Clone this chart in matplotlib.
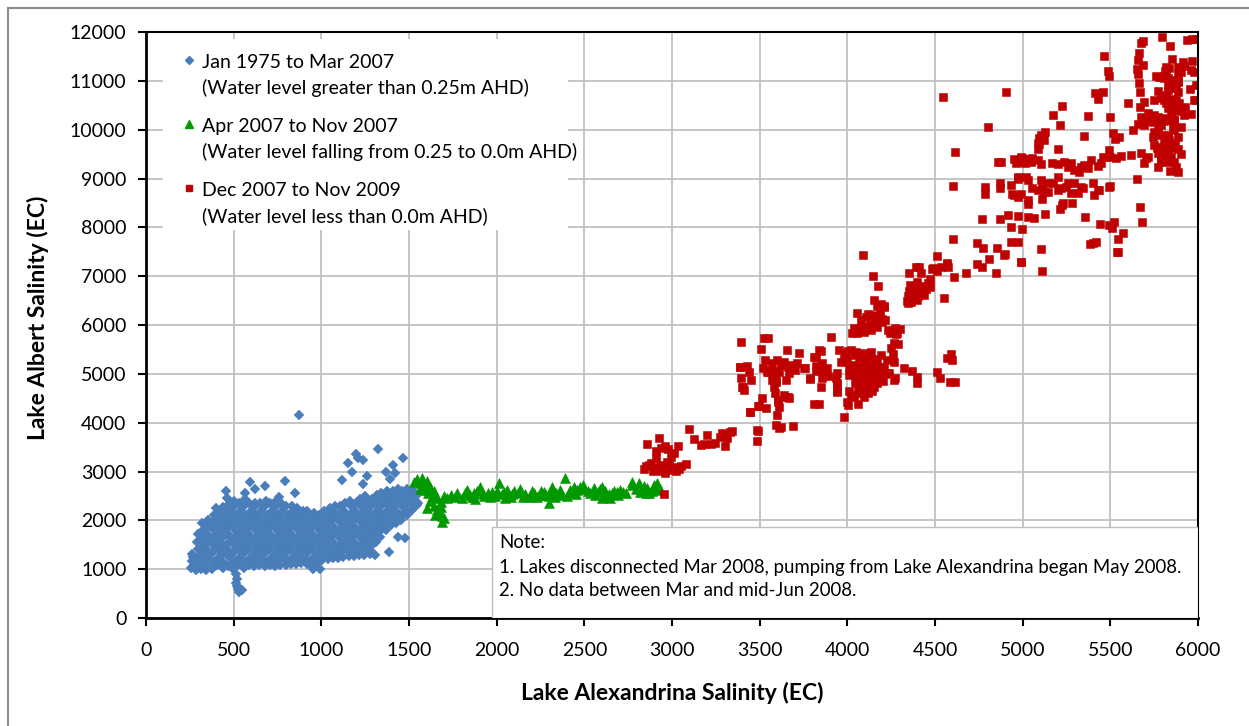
import matplotlib
matplotlib.use("Agg")
import matplotlib.pyplot as plt
from matplotlib.patches import Rectangle
from matplotlib.lines import Line2D

plt.rcParams['font.family'] = ['Lato', 'DejaVu Sans']

# (Lake Alexandrina EC, Lake Albert EC)
blue_pts = [
    (255, 1015), (260, 1170), (264, 1315), (272, 1095), (268, 1245),
    (287, 1085), (291, 1230), (294, 1405), (289, 1560), (296, 1710), (284, 990),
    (316, 1005), (321, 1160), (318, 1330), (324, 1475), (319, 1645), (326, 1800), (322, 1950),
    (347, 1075), (352, 1250), (349, 1395), (355, 1565), (350, 1715), (357, 1890), (353, 2010), (345, 985),
    (377, 1010), (382, 1155), (379, 1330), (385, 1475), (380, 1645), (386, 1795), (383, 1965), (388, 2105),
    (406, 1085), (411, 1235), (408, 1405), (414, 1555), (409, 1725), (415, 1875), (412, 2045), (417, 2150),
    (437, 1015), (442, 1155), (439, 1325), (445, 1475), (440, 1650), (446, 1795), (443, 1965), (448, 2115), (441, 2265),
    (466, 1075), (471, 1245), (468, 1395), (474, 1565), (469, 1715), (475, 1885), (472, 2035), (477, 2205), (470, 2320),
    (497, 1005), (502, 1155), (499, 1325), (505, 1475), (500, 1645), (506, 1795), (503, 1965), (508, 2115), (501, 2285), (504, 2390),
    (526, 1085), (531, 1235), (528, 1405), (534, 1555), (529, 1725), (535, 1875), (532, 2045), (537, 2195), (530, 2345),
    (557, 1025), (562, 1155), (559, 1325), (565, 1475), (560, 1645), (566, 1795), (563, 1965), (568, 2115), (561, 2285), (564, 2430),
    (586, 1085), (591, 1235), (588, 1405), (594, 1555), (589, 1725), (595, 1875), (592, 2045), (597, 2195), (590, 2360),
    (617, 1055), (622, 1155), (619, 1325), (625, 1475), (620, 1645), (626, 1795), (623, 1965), (628, 2115), (621, 2285), (624, 2365),
    (646, 1085), (651, 1235), (648, 1405), (654, 1555), (649, 1725), (655, 1875), (652, 2045), (657, 2195), (650, 2350),
    (677, 1065), (682, 1155), (679, 1325), (685, 1475), (680, 1645), (686, 1795), (683, 1965), (688, 2115), (681, 2285), (684, 2400),
    (706, 1095), (711, 1235), (708, 1405), (714, 1555), (709, 1725), (715, 1875), (712, 2045), (717, 2195), (710, 2350),
    (737, 1065), (742, 1155), (739, 1325), (745, 1475), (740, 1645), (746, 1795), (743, 1965), (748, 2115), (741, 2285), (744, 2400),
    (766, 1090), (771, 1235), (768, 1405), (774, 1555), (769, 1725), (775, 1875), (772, 2045), (777, 2195), (770, 2350),
    (797, 1085), (802, 1165), (799, 1325), (805, 1475), (800, 1645), (806, 1795), (803, 1965), (808, 2115), (801, 2285),
    (826, 1105), (831, 1235), (828, 1405), (834, 1555), (829, 1725), (835, 1875), (832, 2045), (837, 2195), (830, 2300),
    (857, 1105), (862, 1170), (859, 1325), (865, 1475), (860, 1645), (866, 1795), (863, 1965), (868, 2115), (861, 2250),
    (886, 1125), (891, 1235), (888, 1405), (894, 1555), (889, 1725), (895, 1875), (892, 2045), (897, 2195),
    (917, 1105), (922, 1170), (919, 1325), (925, 1475), (920, 1645), (926, 1795), (923, 1965), (928, 2115), (921, 2200),
    (946, 1055), (951, 1235), (948, 1405), (954, 1555), (949, 1725), (955, 1875), (952, 2045), (957, 2150), (944, 1110),
    (977, 1055), (982, 1165), (979, 1325), (985, 1475), (980, 1645), (986, 1795), (983, 1965), (988, 2115),
    (1006, 1185), (1011, 1240), (1008, 1405), (1014, 1555), (1009, 1725), (1015, 1875), (1012, 2045), (1017, 2200),
    (1037, 1205), (1042, 1325), (1039, 1475), (1045, 1645), (1040, 1795), (1046, 1965), (1043, 2115), (1048, 2250),
    (1066, 1225), (1071, 1400), (1068, 1555), (1074, 1725), (1069, 1875), (1075, 2045), (1072, 2195), (1077, 2300), (1070, 1300),
    (1097, 1235), (1102, 1325), (1099, 1475), (1105, 1645), (1100, 1795), (1106, 1965), (1103, 2115), (1108, 2285),
    (1126, 1255), (1131, 1405), (1128, 1555), (1134, 1725), (1129, 1875), (1135, 2045), (1132, 2195), (1137, 2350),
    (1157, 1265), (1162, 1325), (1159, 1475), (1165, 1645), (1160, 1795), (1166, 1965), (1163, 2115), (1168, 2285), (1161, 2400),
    (1186, 1275), (1191, 1405), (1188, 1555), (1194, 1725), (1189, 1875), (1195, 2045), (1192, 2195), (1197, 2360),
    (1217, 1285), (1222, 1325), (1219, 1475), (1225, 1645), (1220, 1795), (1226, 1965), (1223, 2115), (1228, 2285), (1221, 2440),
    (1246, 1285), (1251, 1405), (1248, 1555), (1254, 1725), (1249, 1875), (1255, 2045), (1252, 2195), (1257, 2360), (1250, 2500),
    (1277, 1305), (1282, 1475), (1279, 1645), (1285, 1795), (1280, 1965), (1286, 2115), (1283, 2285), (1288, 2440), (1278, 1385),
    (1306, 1300), (1311, 1555), (1308, 1725), (1314, 1875), (1309, 2045), (1315, 2195), (1312, 2360), (1317, 2520),
    (1337, 1655), (1342, 1795), (1339, 1965), (1345, 2115), (1340, 2285), (1346, 2440), (1343, 2550),
    (1366, 1805), (1371, 1885), (1368, 2045), (1374, 2195), (1369, 2360), (1375, 2520), (1372, 2600),
    (1397, 1905), (1402, 1965), (1399, 2115), (1405, 2285), (1400, 2440), (1406, 2600),
    (1426, 1955), (1431, 2045), (1428, 2195), (1434, 2360), (1429, 2520), (1435, 2650),
    (1457, 2005), (1462, 2115), (1459, 2285), (1465, 2440), (1460, 2600),
    (1486, 2105), (1491, 2195), (1488, 2360), (1494, 2520), (1489, 2650),
    (1517, 2205), (1522, 2285), (1519, 2440), (1525, 2600),
    (1546, 2305), (1551, 2360), (1548, 2520),
    # outliers and the low tail near 500
    (455, 2600), (460, 2450), (398, 2250), (515, 900), (520, 800), (512, 720), (518, 650),
    (524, 590), (532, 540), (545, 570), (528, 620), (565, 2560), (592, 2780), (620, 2650),
    (680, 2700), (760, 2480), (790, 2800), (850, 2550), (870, 4150), (955, 1000), (990, 1000),
    (1120, 2830), (1150, 3170), (1175, 2990), (1195, 3360), (1210, 3270), (1240, 3230),
    (1260, 2900), (1240, 2750), (1325, 3460), (1370, 3000), (1390, 2850), (1387, 1350),
    (1410, 3130), (1420, 2960), (1440, 1660), (1467, 3280), (1480, 1640),
]

green_pts = [
    (1526, 2790), (1545, 2850), (1560, 2760), (1575, 2860), (1583, 2720), (1600, 2800), (1620, 2690),
    (1560, 2650), (1590, 2620), (1610, 2560), (1640, 2600), (1650, 2520), (1630, 2480), (1660, 2450),
    (1620, 2400), (1600, 2250), (1640, 2300), (1660, 2220), (1680, 2280), (1670, 2150), (1690, 2080),
    (1650, 2100), (1688, 1972), (1700, 2040), (1680, 2380), (1700, 2500), (1717, 2450), (1740, 2520),
    (1774, 2554), (1800, 2460), (1831, 2621), (1850, 2520), (1878, 2430), (1907, 2690), (1930, 2500),
    (1950, 2560), (1974, 2580), (2011, 2760), (2030, 2540), (2059, 2620), (2080, 2480), (2100, 2600),
    (2135, 2650), (2160, 2530), (2190, 2480), (2211, 2560), (2240, 2520), (2270, 2580), (2297, 2350),
    (2300, 2500), (2316, 2690), (2340, 2560), (2360, 2620), (2392, 2860), (2410, 2560), (2421, 2621),
    (2440, 2680), (2478, 2690), (2500, 2640), (2520, 2600), (2554, 2660), (2580, 2580), (2602, 2450),
    (2620, 2600), (2649, 2450), (2670, 2610), (2706, 2621), (2740, 2560), (2773, 2720), (2811, 2760),
    (2830, 2620), (2840, 2700), (2870, 2550), (2885, 2600), (2900, 2680), (2915, 2720), (2930, 2650),
    (1870, 2560), (1960, 2480), (2050, 2450), (2120, 2560), (2250, 2610), (2330, 2480), (2450, 2540),
    (2490, 2720), (2560, 2520), (2640, 2540), (2690, 2510), (2795, 2640), (2000, 2600), (1890, 2600),
    (2601, 2690), (2611, 2485), (2687, 2587), (2773, 2792), (2820, 2587), (2849, 2553), (2858, 2655),
    (2896, 2724), (2906, 2621), (2916, 2758),
    (1760, 2480), (1820, 2560), (1860, 2470), (1920, 2540), (1990, 2500), (2040, 2580), (2090, 2530),
    (2150, 2480), (2200, 2600), (2230, 2470), (2280, 2520), (2310, 2590), (2370, 2520), (2400, 2490),
    (2430, 2580), (2460, 2620), (2530, 2560), (2590, 2640), (2660, 2560), (2720, 2580),
]

red_pts = [
    (2858, 3563), (2925, 3680), (2906, 3427), (2935, 3480), (2960, 3520), (2980, 3470), (2906, 3277),
    (2992, 3300), (3014, 3385), (3035, 3528), (2850, 3110), (2870, 3140), (2900, 3080), (2930, 3130),
    (2955, 3100), (2985, 3140), (3010, 3090), (3050, 3120), (2940, 3010), (2960, 2970), (2980, 3040),
    (2925, 3050), (2952, 2540), (2890, 3020), (3020, 3020), (2880, 3180), (2970, 3200), (3080, 3160),
    (2840, 3060), (3040, 3060),
    (3096, 3877), (3128, 3659), (3163, 3543), (3180, 3560), (3197, 3748), (3220, 3563), (3248, 3590),
    (3287, 3782), (3311, 3686), (3300, 3522), (3344, 3836), (3330, 3800), (3275, 3700),
    (3391, 5646), (3387, 5147), (3425, 5160), (3439, 5045), (3391, 4908), (3406, 4724), (3448, 4874),
    (3443, 4225), (3486, 3850), (3483, 3631), (3496, 4342), (3511, 4512), (3534, 4294), (3524, 5728),
    (3545, 5740), (3505, 5503), (3520, 5113), (3553, 5045), (3581, 5066), (3610, 5045), (3572, 4874),
    (3591, 4840), (3581, 4724), (3585, 4601), (3604, 4465), (3610, 4328), (3597, 4157), (3591, 3952),
    (3610, 3885), (3648, 4533), (3667, 4499), (3692, 3932), (3530, 5280), (3570, 5230), (3600, 5284),
    (3620, 5180), (3640, 5250), (3660, 5150), (3700, 5079), (3676, 5181), (3714, 5216), (3724, 5434),
    (3654, 5489), (3752, 5113), (3562, 5079), (3543, 5045), (3585, 4976), (3591, 4874), (3606, 4430),
    (3638, 4567), (3663, 4520), (3648, 4874), (3667, 5011), (3492, 4348), (3444, 4212), (3492, 3836),
    (3410, 4660), (3400, 4730), (3385, 5147), (3620, 3920),
    (3757, 5113), (3787, 4895), (3810, 5352), (3848, 5476), (3820, 5160), (3850, 5060), (3870, 5100),
    (3890, 4960), (3905, 5749), (3810, 4383), (3838, 4383), (3819, 5066), (3857, 5216), (3886, 5113),
    (3853, 4908), (3848, 4738), (3819, 5352), (3838, 5489), (3789, 4908), (3934, 4922), (3943, 4806),
    (3943, 4635), (3943, 4772), (3940, 4650),
    (4000, 4430), (3981, 4110), (4057, 6240), (4105, 6170), (4133, 6200), (4171, 6380), (4209, 6380),
    (4186, 6240), (4162, 6140), (4114, 5960), (4076, 5960), (4038, 5930), (4029, 5830), (4057, 5830),
    (4095, 5860), (4133, 5900), (4171, 5960), (4200, 6060), (4212, 6100), (4243, 5830), (4276, 5900),
    (4285, 5830), (4266, 5630), (4247, 5530), (4266, 4880), (4229, 5010), (4190, 4910), (4171, 4810),
    (4152, 4740), (4114, 4770), (4076, 4730), (4067, 4600), (4095, 4530), (4052, 4810), (4038, 5010),
    (4010, 5150), (4000, 5280), (3995, 5420), (4019, 5490), (4048, 5450), (4095, 5420), (4133, 5450),
    (4190, 5390), (4229, 5280), (4209, 5150), (4171, 5080), (4143, 5050), (4114, 5080), (4086, 5050),
    (4067, 5220), (4105, 5250), (4133, 5180), (4171, 5220), (3962, 5250), (3952, 5490), (3943, 5010),
    (3981, 5320), (4010, 4640), (4038, 4530), (4003, 5460), (4042, 5390), (4081, 5340), (4122, 5370),
    (4158, 5310), (4024, 5190), (4061, 5140), (4098, 5170), (4139, 5110), (4183, 5150), (4012, 4970),
    (4049, 4940), (4093, 4990), (4128, 4920), (4168, 4960), (4214, 4995), (4043, 4830), (4079, 4870),
    (4121, 4890), (4163, 4850), (4204, 4860), (4058, 4690), (4101, 4670), (4142, 4650), (4021, 4560),
    (4001, 4360), (4060, 4380), (4120, 4600),
    (4090, 7430), (4145, 7000), (4175, 6800), (4150, 6510), (4190, 6430), (4210, 6370), (4120, 6220),
    (4150, 6180), (4200, 6130), (4160, 6050), (4130, 6000), (4080, 6100),
    (4230, 5900), (4270, 5940), (4300, 5910), (4275, 5820), (4290, 5610), (4260, 5400), (4265, 5240),
    (4322, 5120), (4370, 5050), (4400, 4940), (4395, 4820), (4510, 5040), (4530, 4920), (4570, 5330),
    (4590, 5400), (4595, 5280), (4585, 4840), (4615, 4830), (4235, 5020), (4270, 4920),
    (4340, 6500), (4345, 6600), (4350, 6700), (4360, 6820), (4375, 6560), (4380, 6650), (4390, 6750),
    (4400, 6880), (4405, 6600), (4420, 6700), (4430, 6800), (4440, 6620), (4450, 6730), (4460, 6850),
    (4470, 6780), (4345, 6450), (4365, 6480), (4395, 6520), (4350, 7060), (4390, 7180), (4420, 7060),
    (4485, 7150), (4510, 7100), (4570, 7230), (4575, 7180), (4610, 6990), (4550, 6550), (4470, 6940),
    (4675, 7060), (4740, 7250), (4770, 7180), (4810, 7350), (4850, 7060), (4900, 7450), (4990, 7290),
    (5110, 7110), (5540, 7500), (4510, 7414), (4411, 7195), (4486, 7161), (4533, 7195), (4571, 7277),
    (4600, 7760), (4605, 8850), (4615, 9540), (4545, 10670), (4905, 10770), (4800, 10060),
    (4914, 8253), (4971, 8230), (5028, 8210), (5062, 8190), (5127, 8270), (5357, 8210), (4767, 8168),
    (4872, 8168), (4933, 8014), (4999, 7967), (4933, 7707), (4971, 7707), (4738, 7673), (4771, 7584),
    (4851, 7584), (4894, 7434), (4988, 7291), (5106, 7564), (5028, 8479), (5113, 8574), (5228, 8492),
    (5279, 8492), (5214, 8370), (5225, 8450), (4784, 8833), (4784, 8684), (4872, 8902), (4872, 8800),
    (4933, 8868), (4942, 8690), (4952, 8660), (4971, 8620), (4993, 8684), (5028, 8560), (5056, 8800),
    (5085, 8770), (5113, 8800), (5123, 8730), (5142, 8730), (5199, 8770), (5218, 8800), (5247, 8833),
    (5275, 8700), (5313, 8700), (5342, 8800), (5408, 8670), (5437, 8770), (4971, 9039), (4975, 9000),
    (5018, 9039), (5028, 8970), (5104, 8970), (5142, 8902), (5171, 8902), (5199, 9039), (5256, 8902),
    (5294, 8902), (5332, 8833), (5399, 8902), (5427, 8770), (5494, 8833), (4861, 9346), (4876, 9346),
    (4952, 9390), (4971, 9380), (4999, 9414), (5028, 9390), (5056, 9430), (5085, 9380), (4990, 9440),
    (4980, 9346), (5014, 9320), (5047, 9346), (5104, 9300), (4961, 9310),
    (5085, 9610), (5095, 9700), (5120, 9790), (5203, 9600),
    (5170, 9325), (5199, 9298), (5237, 9346), (5256, 9243), (5275, 9311), (5294, 9175), (5323, 9141),
    (5332, 9243), (5351, 9277), (5370, 9209), (5389, 9380), (5427, 9257), (5446, 9311), (5456, 9448),
    (5494, 9584), (5500, 9434), (5532, 9414), (5560, 9462), (5617, 9482), (5674, 9516), (5694, 9311),
    (5703, 9414), (5717, 9434), (5741, 9844), (5751, 9687), (5766, 9619), (5789, 9653), (5808, 9721),
    (5827, 9721), (5836, 9789), (5855, 9735), (5870, 9735), (5827, 9892), (5846, 9619), (5770, 9516),
    (5817, 9550), (5789, 9448), (5836, 9346), (5876, 9243), (5789, 9366),
    (5129, 9946), (5104, 9892), (5094, 9823), (5085, 9735), (5172, 10308), (5214, 10097), (5222, 10486),
    (5348, 9871), (5370, 10288), (5500, 10254), (5513, 9926), (5551, 9844), (5528, 9803), (5456, 10779),
    (5412, 10759), (5427, 10629), (5465, 11510), (5484, 11209), (5494, 11100), (5599, 10541), (5671, 10459),
    (5694, 10575), (5751, 10609), (5789, 10643), (5817, 10711), (5827, 10813), (5842, 10916), (5850, 10620),
    (5875, 10848), (5884, 10780), (5875, 10609), (5894, 10541), (5926, 10472), (5817, 10541), (5827, 10438),
    (5865, 10404), (5713, 10336), (5732, 10267), (5751, 10302), (5770, 10267), (5779, 10199), (5798, 10233),
    (5694, 10233), (5674, 10267), (5722, 10199), (5861, 10199), (5741, 10151), (5656, 10117), (5627, 9994),
    (5855, 10028), (5665, 10950), (5671, 10779), (5990, 10916), (5956, 10834), (5990, 10609), (5760, 11100),
    (5779, 11073), (5808, 11100), (5827, 11052), (5865, 11018), (5884, 10984), (5817, 11291), (5836, 11257),
    (5884, 11291), (5899, 11223), (5884, 11155), (5811, 11209), (5817, 11155), (5979, 11175), (5686, 11318),
    (5652, 11237), (5660, 11141), (5663, 11578), (5656, 11428), (5850, 11442), (5915, 11387), (5964, 11414),
    (5842, 11715), (5793, 11906), (5688, 11817), (5675, 11783), (5937, 11838), (5964, 11858), (5990, 11858),
    (5442, 8069), (5494, 8048), (5508, 7980), (5523, 8116), (5570, 7878), (5542, 7755), (5399, 7687),
    (5386, 7653), (5418, 7707), (5542, 7502), (5671, 8424), (5679, 8116), (5652, 8984), (5840, 9155),
    (5500, 8847),
    (5789, 11086), (5808, 11050), (5827, 10900), (5846, 10950), (5865, 10880), (5884, 11000), (5903, 11180),
    (5922, 11300), (5960, 11220), (5979, 10609), (5960, 10330), (5922, 10300), (5884, 10380), (5865, 10200),
    (5846, 10336), (5827, 10200), (5808, 10180), (5789, 10100), (5770, 10050), (5751, 10250), (5713, 10180),
    (5694, 10100), (5751, 9950), (5789, 9900), (5827, 9860), (5846, 9721), (5865, 9650), (5884, 9600),
    (5827, 9584), (5808, 9448), (5789, 9346), (5846, 9448), (5865, 9346), (5770, 9243), (5884, 9141),
    (5903, 9500), (5884, 9857), (5865, 10000), (5903, 10050), (5808, 10600), (5846, 10500), (5884, 10520),
    (5770, 10800), (5808, 10680),
]

legend_labels = [
    ("Jan 1975 to Mar 2007", "(Water level greater than 0.25m AHD)"),
    ("Apr 2007 to Nov 2007", "(Water level falling from 0.25 to 0.0m AHD)"),
    ("Dec 2007 to Nov 2009", "(Water level less than 0.0m AHD)"),
]
note_lines = [
    "Note:",
    "1. Lakes disconnected Mar 2008, pumping from Lake Alexandrina began May 2008.",
    "2. No data between Mar and mid-Jun 2008.",
]
x_ticks = list(range(0, 6001, 500))
y_ticks = list(range(0, 12001, 1000))

blue_c = '#4A7EBB'
green_c = '#009A00'
red_c = '#C00000'

W, H = 1249, 726
fig = plt.figure(figsize=(W / 100, H / 100), dpi=100)
ax = fig.add_axes([146 / W, 1 - 618 / H, (1198 - 146) / W, (618 - 32) / H])

ax.plot([p[0] for p in blue_pts], [p[1] for p in blue_pts], ls='none', marker='D',
        ms=5.6, mfc=blue_c, mec=blue_c, mew=0.3, zorder=2)
ax.plot([p[0] for p in green_pts], [p[1] for p in green_pts], ls='none', marker='^',
        ms=7, mfc=green_c, mec=green_c, mew=0.4, zorder=2.1)
ax.plot([p[0] for p in red_pts], [p[1] for p in red_pts], ls='none', marker='s',
        ms=5.5, mfc=red_c, mec=red_c, mew=0.4, zorder=2.2)

ax.set_xlim(0, 6000)
ax.set_ylim(0, 12000)
ax.set_xticks(x_ticks)
ax.set_yticks(y_ticks)
ax.grid(True, color='#C0C0C0', lw=1.3)
ax.set_axisbelow(True)
ax.tick_params(axis='both', direction='out', length=6, width=1.5, labelsize=14, colors='black')
ax.tick_params(axis='x', pad=11)
ax.tick_params(axis='y', pad=8)
for side in ['left', 'bottom']:
    ax.spines[side].set_linewidth(2)
for side in ['top', 'right']:
    ax.spines[side].set_linewidth(1.5)

# legend block (white panel covering the grid)
ax.add_patch(Rectangle((0.016, 0.662), 0.385, 0.326, transform=ax.transAxes,
                       facecolor='white', edgecolor='none', zorder=3))
markers = [('D', blue_c, 4.5), ('^', green_c, 5.5), ('s', red_c, 4.5)]
rows = [(62, 88), (126, 152), (190, 216)]
for (m, c, s), (t1, t2), (r1, r2) in zip(markers, legend_labels, rows):
    ax.plot([0.0409], [(618 - r1 + 2) / 586], transform=ax.transAxes, marker=m, ms=s,
            color=c, ls='none', zorder=4, clip_on=False)
    ax.text(0.0532, (618 - r1) / 586, t1, transform=ax.transAxes, fontsize=14,
            va='center', ha='left', zorder=4)
    ax.text(0.0532, (618 - r2) / 586, t2, transform=ax.transAxes, fontsize=14,
            va='center', ha='left', zorder=4)

# note box
ax.add_patch(Rectangle((1975, 0), 4025, 1864, facecolor='white', edgecolor='#BFBFBF',
                       lw=1, zorder=3))
for py, line in zip([542, 567, 591], note_lines):
    ax.text((499 - 146) / 1052, (618 - py) / 586, line, transform=ax.transAxes,
            fontsize=13.4, va='center', ha='left', zorder=4)

fig.text(672 / W, 1 - 693 / H, 'Lake Alexandrina Salinity (EC)', fontsize=16.5,
         fontweight='bold', ha='center', va='center')
fig.text(38 / W, 1 - 318 / H, 'Lake Albert Salinity (EC)', fontsize=16.5,
         fontweight='bold', ha='center', va='center', rotation=90)

# outer chart frame
fig.add_artist(Line2D([8 / W, 8 / W], [0, 1 - 8 / H], transform=fig.transFigure,
                      color='#8C8C8C', lw=1.5))
fig.add_artist(Line2D([8 / W, 1], [1 - 8 / H, 1 - 8 / H], transform=fig.transFigure,
                      color='#8C8C8C', lw=1.5))

fig.savefig('out.png', dpi=100)
